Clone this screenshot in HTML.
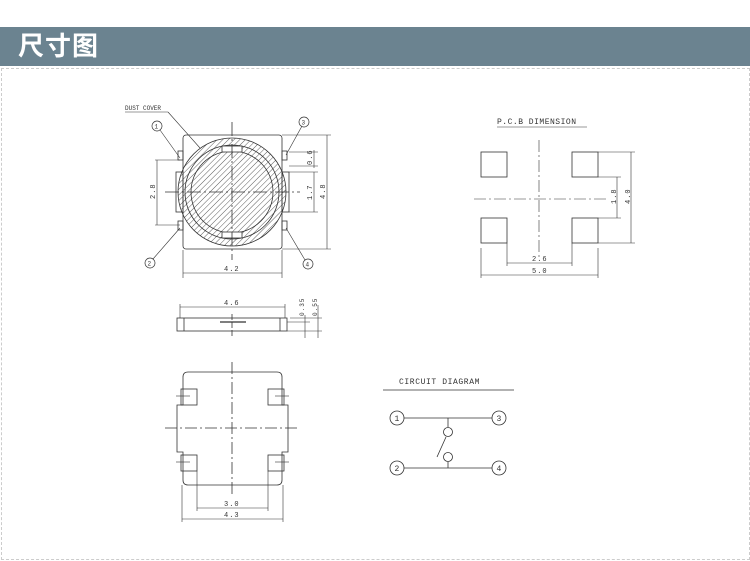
<!DOCTYPE html>
<html><head><meta charset="utf-8"><style>
body{margin:0;width:750px;height:561px;background:#fff;overflow:hidden;position:relative;font-family:"Liberation Sans","Noto Sans CJK SC",sans-serif}
.hd{position:absolute;left:0;top:27px;width:750px;height:39px;background:#6b8390;color:#fff;font-size:26px;font-weight:bold;line-height:39px;padding-left:18px;box-sizing:border-box;letter-spacing:1px}
.bx{position:absolute;left:1px;top:68px;width:747px;height:490px;border:1px dashed #ccc}
svg{position:absolute;left:0;top:0}
</style></head><body>
<div class="hd">尺寸图</div>
<div class="bx"></div>
<svg width="750" height="561" viewBox="0 0 750 561" font-family="Liberation Mono,monospace" font-size="7" fill="none" stroke="#333" stroke-width="0.8">
<defs><pattern id="h" width="4" height="4" patternUnits="userSpaceOnUse" patternTransform="rotate(45)"><line x1="0" y1="0" x2="0" y2="4" stroke="#333" stroke-width="0.8"/></pattern></defs>
<!-- TOP VIEW -->
<rect x="183" y="135" width="99" height="114" rx="3"/>
<rect x="176" y="172" width="7" height="40"/><rect x="282" y="172" width="7" height="40"/>
<rect x="178" y="151" width="5" height="9"/><rect x="282" y="151" width="5" height="9"/>
<rect x="178" y="221" width="5" height="9"/><rect x="282" y="221" width="5" height="9"/>
<circle cx="232" cy="192" r="54" fill="url(#h)"/>
<circle cx="232" cy="192" r="47"/>
<circle cx="232" cy="192" r="41"/>
<rect x="222" y="146" width="20" height="6" fill="#fff"/><rect x="222" y="232" width="20" height="6" fill="#fff"/>
<g stroke-dasharray="14 3 2 3"><line x1="232" y1="122" x2="232" y2="260"/><line x1="165" y1="192" x2="300" y2="192"/></g>
<g stroke-width="0.6">
<line x1="155" y1="160" x2="180" y2="160"/><line x1="155" y1="225" x2="180" y2="225"/><line x1="157" y1="160" x2="157" y2="225"/>
<line x1="289" y1="152" x2="318" y2="152"/><line x1="289" y1="166" x2="318" y2="166"/><line x1="314" y1="150" x2="314" y2="168"/>
<line x1="289" y1="172" x2="318" y2="172"/><line x1="289" y1="212" x2="318" y2="212"/><line x1="314" y1="172" x2="314" y2="212"/>
<line x1="282" y1="135" x2="331" y2="135"/><line x1="282" y1="249" x2="331" y2="249"/><line x1="327" y1="135" x2="327" y2="249"/>
<line x1="183" y1="250" x2="183" y2="278"/><line x1="282" y1="250" x2="282" y2="278"/><line x1="183" y1="273" x2="282" y2="273"/>
<line x1="160" y1="130" x2="180" y2="158"/><line x1="302" y1="126" x2="286" y2="155"/>
<line x1="153" y1="259" x2="180" y2="228"/><line x1="305" y1="260" x2="286" y2="228"/>
<line x1="125" y1="112" x2="168" y2="112"/><line x1="168" y1="112" x2="200" y2="148"/>
</g>
<g stroke-width="0.7"><circle cx="157" cy="126" r="5"/><circle cx="304" cy="122" r="5"/><circle cx="150" cy="263" r="5"/><circle cx="308" cy="264" r="5"/></g>
<g fill="#333" stroke="none" font-size="6">
<text x="154.5" y="128.5">1</text><text x="301.5" y="124.5">3</text><text x="147.5" y="265.5">2</text><text x="305.5" y="266.5">4</text>
<text x="125" y="110">DUST COVER</text>
<text x="224" y="271" font-size="7" letter-spacing="1">4.2</text>
<text transform="translate(155,199) rotate(-90)" font-size="7" letter-spacing="1">2.8</text>
<text transform="translate(312,200) rotate(-90)" font-size="7" letter-spacing="1">1.7</text>
<text transform="translate(325,199) rotate(-90)" font-size="7" letter-spacing="1">4.8</text>
<text transform="translate(312,165) rotate(-90)" font-size="7" letter-spacing="1">0.6</text>
</g>
<!-- SIDE VIEW -->
<rect x="177" y="318" width="110" height="13"/>
<line x1="184" y1="318" x2="184" y2="331"/><line x1="280" y1="318" x2="280" y2="331"/>
<line x1="220" y1="322" x2="246" y2="322" stroke-width="1.2"/>
<line x1="232" y1="314" x2="232" y2="338" stroke-dasharray="6 2"/>
<g stroke-width="0.6"><line x1="180" y1="307" x2="285" y2="307"/><line x1="180" y1="304" x2="180" y2="318"/><line x1="285" y1="304" x2="285" y2="318"/>
<line x1="287" y1="322" x2="310" y2="322"/><line x1="287" y1="331" x2="322" y2="331"/><line x1="305" y1="315" x2="305" y2="338"/><line x1="318" y1="305" x2="318" y2="338"/><line x1="290" y1="318" x2="322" y2="318"/></g>
<g fill="#333" stroke="none" font-size="7" letter-spacing="1"><text x="224" y="305">4.6</text>
<text transform="translate(304,316) rotate(-90)" font-size="6">0.35</text><text transform="translate(317,316) rotate(-90)" font-size="6">0.55</text></g>
<!-- BOTTOM VIEW -->
<path d="M188 372 H277 Q282 372 282 377 V405 H288 V452 H282 V480 Q282 485 277 485 H188 Q183 485 183 480 V452 H177 V405 H183 V377 Q183 372 188 372 Z"/>
<rect x="181" y="389" width="16" height="16"/><rect x="268" y="389" width="16" height="16"/>
<rect x="181" y="455" width="16" height="16"/><rect x="268" y="455" width="16" height="16"/>
<g stroke-dasharray="12 3 2 3"><line x1="232" y1="362" x2="232" y2="495"/><line x1="165" y1="428" x2="300" y2="428"/></g>
<g stroke-width="0.6"><line x1="176" y1="396" x2="190" y2="396"/><line x1="275" y1="396" x2="289" y2="396"/><line x1="176" y1="462" x2="190" y2="462"/><line x1="275" y1="462" x2="289" y2="462"/>
<line x1="197" y1="471" x2="197" y2="511"/><line x1="268" y1="471" x2="268" y2="511"/><line x1="197" y1="508" x2="268" y2="508"/>
<line x1="182" y1="485" x2="182" y2="522"/><line x1="283" y1="485" x2="283" y2="522"/><line x1="182" y1="519" x2="283" y2="519"/></g>
<g fill="#333" stroke="none" font-size="7" letter-spacing="1"><text x="224" y="506">3.0</text><text x="224" y="517">4.3</text></g>
<!-- PCB -->
<g fill="#333" stroke="none" font-size="8" letter-spacing="0.5"><text x="497" y="124">P.C.B DIMENSION</text></g>
<line x1="497" y1="127" x2="587" y2="127" stroke-width="0.6"/>
<rect x="481" y="152" width="26" height="25"/><rect x="572" y="152" width="26" height="25"/>
<rect x="481" y="218" width="26" height="25"/><rect x="572" y="218" width="26" height="25"/>
<g stroke-dasharray="12 3 2 3" stroke-width="0.6"><line x1="539" y1="140" x2="539" y2="258"/><line x1="474" y1="199" x2="606" y2="199"/></g>
<g stroke-width="0.6"><line x1="598" y1="177" x2="621" y2="177"/><line x1="598" y1="218" x2="621" y2="218"/><line x1="617" y1="177" x2="617" y2="218"/>
<line x1="598" y1="152" x2="635" y2="152"/><line x1="598" y1="243" x2="635" y2="243"/><line x1="631" y1="152" x2="631" y2="243"/>
<line x1="507" y1="243" x2="507" y2="266"/><line x1="572" y1="243" x2="572" y2="266"/><line x1="507" y1="263" x2="572" y2="263"/>
<line x1="481" y1="248" x2="481" y2="278"/><line x1="598" y1="248" x2="598" y2="278"/><line x1="481" y1="275" x2="598" y2="275"/></g>
<g fill="#333" stroke="none" font-size="7" letter-spacing="1"><text x="532" y="261">2.6</text><text x="532" y="273">5.0</text>
<text transform="translate(616,204) rotate(-90)">1.8</text><text transform="translate(630,204) rotate(-90)">4.0</text></g>
<!-- CIRCUIT -->
<g fill="#333" stroke="none" font-size="8" letter-spacing="0.6"><text x="399" y="384">CIRCUIT  DIAGRAM</text></g>
<line x1="383" y1="390" x2="514" y2="390"/>
<circle cx="397" cy="418" r="7"/><circle cx="499" cy="418" r="7"/><circle cx="397" cy="468" r="7"/><circle cx="499" cy="468" r="7"/>
<line x1="404" y1="418" x2="492" y2="418"/><line x1="404" y1="468" x2="492" y2="468"/>
<line x1="448" y1="418" x2="448" y2="427"/><circle cx="448" cy="432" r="4.5"/>
<line x1="446" y1="437" x2="437" y2="457"/>
<circle cx="448" cy="457" r="4.5"/><line x1="448" y1="462" x2="448" y2="468"/>
<g fill="#333" stroke="none" font-size="8"><text x="394.5" y="421">1</text><text x="496.5" y="421">3</text><text x="394.5" y="471">2</text><text x="496.5" y="471">4</text></g>
</svg>
</body></html>
